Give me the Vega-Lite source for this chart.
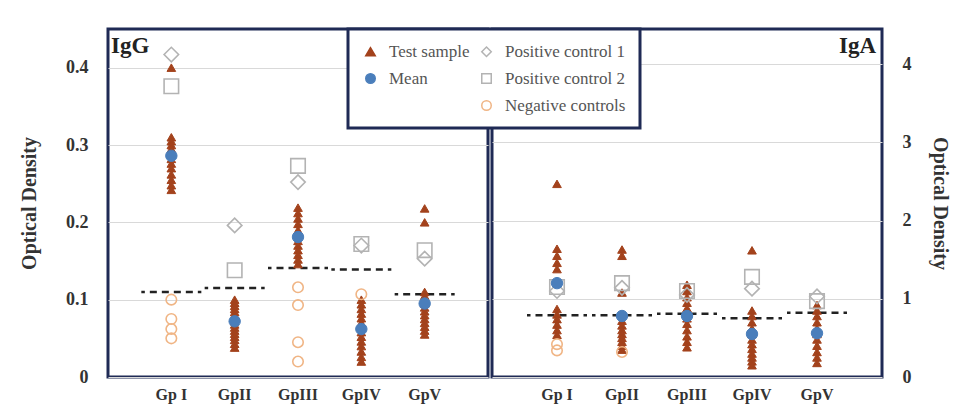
{
  "$schema": "https://vega.github.io/schema/vega-lite/v6.json",
  "background": "white",
  "padding": {"left": 18, "top": 27, "right": 0, "bottom": 0},
  "spacing": 0,
  "datasets": {
    "iggCut": [
      {"group": "Gp I", "cutoff": 0.11},
      {"group": "GpII", "cutoff": 0.115},
      {"group": "GpIII", "cutoff": 0.141},
      {"group": "GpIV", "cutoff": 0.139},
      {"group": "GpV", "cutoff": 0.107}
    ],
    "igaCut": [
      {"group": "Gp I", "cutoff": 0.79},
      {"group": "GpII", "cutoff": 0.79},
      {"group": "GpIII", "cutoff": 0.81},
      {"group": "GpIV", "cutoff": 0.75},
      {"group": "GpV", "cutoff": 0.82}
    ],
    "iggPts": [
      {"group": "Gp I", "series": "Test sample", "od": 0.40},
      {"group": "Gp I", "series": "Test sample", "od": 0.31},
      {"group": "Gp I", "series": "Test sample", "od": 0.305},
      {"group": "Gp I", "series": "Test sample", "od": 0.30},
      {"group": "Gp I", "series": "Test sample", "od": 0.295},
      {"group": "Gp I", "series": "Test sample", "od": 0.29},
      {"group": "Gp I", "series": "Test sample", "od": 0.282},
      {"group": "Gp I", "series": "Test sample", "od": 0.276},
      {"group": "Gp I", "series": "Test sample", "od": 0.27},
      {"group": "Gp I", "series": "Test sample", "od": 0.262},
      {"group": "Gp I", "series": "Test sample", "od": 0.255},
      {"group": "Gp I", "series": "Test sample", "od": 0.248},
      {"group": "Gp I", "series": "Test sample", "od": 0.242},
      {"group": "Gp I", "series": "Positive control 1", "od": 0.417},
      {"group": "Gp I", "series": "Positive control 2", "od": 0.376},
      {"group": "Gp I", "series": "Negative controls", "od": 0.10},
      {"group": "Gp I", "series": "Negative controls", "od": 0.075},
      {"group": "Gp I", "series": "Negative controls", "od": 0.062},
      {"group": "Gp I", "series": "Negative controls", "od": 0.05},
      {"group": "Gp I", "series": "Mean", "od": 0.286},
      {"group": "GpII", "series": "Test sample", "od": 0.10},
      {"group": "GpII", "series": "Test sample", "od": 0.096},
      {"group": "GpII", "series": "Test sample", "od": 0.092},
      {"group": "GpII", "series": "Test sample", "od": 0.088},
      {"group": "GpII", "series": "Test sample", "od": 0.084},
      {"group": "GpII", "series": "Test sample", "od": 0.08},
      {"group": "GpII", "series": "Test sample", "od": 0.076},
      {"group": "GpII", "series": "Test sample", "od": 0.072},
      {"group": "GpII", "series": "Test sample", "od": 0.068},
      {"group": "GpII", "series": "Test sample", "od": 0.064},
      {"group": "GpII", "series": "Test sample", "od": 0.06},
      {"group": "GpII", "series": "Test sample", "od": 0.056},
      {"group": "GpII", "series": "Test sample", "od": 0.052},
      {"group": "GpII", "series": "Test sample", "od": 0.048},
      {"group": "GpII", "series": "Test sample", "od": 0.043},
      {"group": "GpII", "series": "Test sample", "od": 0.038},
      {"group": "GpII", "series": "Positive control 1", "od": 0.196},
      {"group": "GpII", "series": "Positive control 2", "od": 0.138},
      {"group": "GpII", "series": "Mean", "od": 0.072},
      {"group": "GpIII", "series": "Test sample", "od": 0.219},
      {"group": "GpIII", "series": "Test sample", "od": 0.212},
      {"group": "GpIII", "series": "Test sample", "od": 0.205},
      {"group": "GpIII", "series": "Test sample", "od": 0.198},
      {"group": "GpIII", "series": "Test sample", "od": 0.19},
      {"group": "GpIII", "series": "Test sample", "od": 0.184},
      {"group": "GpIII", "series": "Test sample", "od": 0.176},
      {"group": "GpIII", "series": "Test sample", "od": 0.17},
      {"group": "GpIII", "series": "Test sample", "od": 0.164},
      {"group": "GpIII", "series": "Test sample", "od": 0.158},
      {"group": "GpIII", "series": "Test sample", "od": 0.152},
      {"group": "GpIII", "series": "Test sample", "od": 0.146},
      {"group": "GpIII", "series": "Positive control 1", "od": 0.252},
      {"group": "GpIII", "series": "Positive control 2", "od": 0.273},
      {"group": "GpIII", "series": "Negative controls", "od": 0.116},
      {"group": "GpIII", "series": "Negative controls", "od": 0.093},
      {"group": "GpIII", "series": "Negative controls", "od": 0.045},
      {"group": "GpIII", "series": "Negative controls", "od": 0.02},
      {"group": "GpIII", "series": "Mean", "od": 0.181},
      {"group": "GpIV", "series": "Test sample", "od": 0.10},
      {"group": "GpIV", "series": "Test sample", "od": 0.094},
      {"group": "GpIV", "series": "Test sample", "od": 0.088},
      {"group": "GpIV", "series": "Test sample", "od": 0.082},
      {"group": "GpIV", "series": "Test sample", "od": 0.076},
      {"group": "GpIV", "series": "Test sample", "od": 0.07},
      {"group": "GpIV", "series": "Test sample", "od": 0.064},
      {"group": "GpIV", "series": "Test sample", "od": 0.058},
      {"group": "GpIV", "series": "Test sample", "od": 0.052},
      {"group": "GpIV", "series": "Test sample", "od": 0.046},
      {"group": "GpIV", "series": "Test sample", "od": 0.04},
      {"group": "GpIV", "series": "Test sample", "od": 0.033},
      {"group": "GpIV", "series": "Test sample", "od": 0.026},
      {"group": "GpIV", "series": "Test sample", "od": 0.02},
      {"group": "GpIV", "series": "Positive control 1", "od": 0.17},
      {"group": "GpIV", "series": "Positive control 2", "od": 0.172},
      {"group": "GpIV", "series": "Negative controls", "od": 0.107},
      {"group": "GpIV", "series": "Mean", "od": 0.062},
      {"group": "GpV", "series": "Test sample", "od": 0.218},
      {"group": "GpV", "series": "Test sample", "od": 0.20},
      {"group": "GpV", "series": "Test sample", "od": 0.11},
      {"group": "GpV", "series": "Test sample", "od": 0.105},
      {"group": "GpV", "series": "Test sample", "od": 0.10},
      {"group": "GpV", "series": "Test sample", "od": 0.095},
      {"group": "GpV", "series": "Test sample", "od": 0.09},
      {"group": "GpV", "series": "Test sample", "od": 0.085},
      {"group": "GpV", "series": "Test sample", "od": 0.08},
      {"group": "GpV", "series": "Test sample", "od": 0.075},
      {"group": "GpV", "series": "Test sample", "od": 0.07},
      {"group": "GpV", "series": "Test sample", "od": 0.065},
      {"group": "GpV", "series": "Test sample", "od": 0.06},
      {"group": "GpV", "series": "Test sample", "od": 0.055},
      {"group": "GpV", "series": "Positive control 1", "od": 0.153},
      {"group": "GpV", "series": "Positive control 2", "od": 0.164},
      {"group": "GpV", "series": "Mean", "od": 0.095}
    ],
    "igaPts": [
      {"group": "Gp I", "series": "Test sample", "od": 2.47},
      {"group": "Gp I", "series": "Test sample", "od": 1.64},
      {"group": "Gp I", "series": "Test sample", "od": 1.55},
      {"group": "Gp I", "series": "Test sample", "od": 1.46},
      {"group": "Gp I", "series": "Test sample", "od": 1.38},
      {"group": "Gp I", "series": "Test sample", "od": 0.87},
      {"group": "Gp I", "series": "Test sample", "od": 0.8},
      {"group": "Gp I", "series": "Test sample", "od": 0.74},
      {"group": "Gp I", "series": "Test sample", "od": 0.67},
      {"group": "Gp I", "series": "Test sample", "od": 0.6},
      {"group": "Gp I", "series": "Test sample", "od": 0.54},
      {"group": "Gp I", "series": "Positive control 1", "od": 1.1},
      {"group": "Gp I", "series": "Positive control 2", "od": 1.15},
      {"group": "Gp I", "series": "Negative controls", "od": 0.42},
      {"group": "Gp I", "series": "Negative controls", "od": 0.34},
      {"group": "Gp I", "series": "Mean", "od": 1.2},
      {"group": "GpII", "series": "Test sample", "od": 1.63},
      {"group": "GpII", "series": "Test sample", "od": 1.55},
      {"group": "GpII", "series": "Test sample", "od": 1.08},
      {"group": "GpII", "series": "Test sample", "od": 0.72},
      {"group": "GpII", "series": "Test sample", "od": 0.66},
      {"group": "GpII", "series": "Test sample", "od": 0.6},
      {"group": "GpII", "series": "Test sample", "od": 0.55},
      {"group": "GpII", "series": "Test sample", "od": 0.5},
      {"group": "GpII", "series": "Test sample", "od": 0.45},
      {"group": "GpII", "series": "Test sample", "od": 0.4},
      {"group": "GpII", "series": "Test sample", "od": 0.35},
      {"group": "GpII", "series": "Positive control 1", "od": 1.14},
      {"group": "GpII", "series": "Positive control 2", "od": 1.2},
      {"group": "GpII", "series": "Negative controls", "od": 0.32},
      {"group": "GpII", "series": "Mean", "od": 0.78},
      {"group": "GpIII", "series": "Test sample", "od": 1.18},
      {"group": "GpIII", "series": "Test sample", "od": 1.1},
      {"group": "GpIII", "series": "Test sample", "od": 1.02},
      {"group": "GpIII", "series": "Test sample", "od": 0.95},
      {"group": "GpIII", "series": "Test sample", "od": 0.88},
      {"group": "GpIII", "series": "Test sample", "od": 0.82},
      {"group": "GpIII", "series": "Test sample", "od": 0.75},
      {"group": "GpIII", "series": "Test sample", "od": 0.68},
      {"group": "GpIII", "series": "Test sample", "od": 0.6},
      {"group": "GpIII", "series": "Test sample", "od": 0.52},
      {"group": "GpIII", "series": "Test sample", "od": 0.45},
      {"group": "GpIII", "series": "Test sample", "od": 0.38},
      {"group": "GpIII", "series": "Positive control 1", "od": 1.05},
      {"group": "GpIII", "series": "Positive control 2", "od": 1.1},
      {"group": "GpIII", "series": "Mean", "od": 0.78},
      {"group": "GpIV", "series": "Test sample", "od": 1.62},
      {"group": "GpIV", "series": "Test sample", "od": 0.85},
      {"group": "GpIV", "series": "Test sample", "od": 0.78},
      {"group": "GpIV", "series": "Test sample", "od": 0.7},
      {"group": "GpIV", "series": "Test sample", "od": 0.62},
      {"group": "GpIV", "series": "Test sample", "od": 0.55},
      {"group": "GpIV", "series": "Test sample", "od": 0.48},
      {"group": "GpIV", "series": "Test sample", "od": 0.42},
      {"group": "GpIV", "series": "Test sample", "od": 0.36},
      {"group": "GpIV", "series": "Test sample", "od": 0.3},
      {"group": "GpIV", "series": "Test sample", "od": 0.25},
      {"group": "GpIV", "series": "Test sample", "od": 0.2},
      {"group": "GpIV", "series": "Test sample", "od": 0.15},
      {"group": "GpIV", "series": "Positive control 1", "od": 1.13},
      {"group": "GpIV", "series": "Positive control 2", "od": 1.28},
      {"group": "GpIV", "series": "Mean", "od": 0.55},
      {"group": "GpV", "series": "Test sample", "od": 0.92},
      {"group": "GpV", "series": "Test sample", "od": 0.85},
      {"group": "GpV", "series": "Test sample", "od": 0.78},
      {"group": "GpV", "series": "Test sample", "od": 0.7},
      {"group": "GpV", "series": "Test sample", "od": 0.62},
      {"group": "GpV", "series": "Test sample", "od": 0.55},
      {"group": "GpV", "series": "Test sample", "od": 0.48},
      {"group": "GpV", "series": "Test sample", "od": 0.4},
      {"group": "GpV", "series": "Test sample", "od": 0.32},
      {"group": "GpV", "series": "Test sample", "od": 0.25},
      {"group": "GpV", "series": "Test sample", "od": 0.18},
      {"group": "GpV", "series": "Positive control 1", "od": 1.03},
      {"group": "GpV", "series": "Positive control 2", "od": 0.97},
      {"group": "GpV", "series": "Mean", "od": 0.56}
    ]
  },
  "hconcat": [
    {
      "width": 380,
      "height": 348,
      "title": {"text": "IgG", "anchor": "start", "frame": "group", "offset": -29, "dx": 3},
      "layer": [
        {
          "data": {"name": "iggCut"},
          "mark": {"type": "bar", "width": 60, "fill": "transparent", "stroke": "#222222", "strokeWidth": 2.5, "strokeDash": [7, 5], "strokeDashOffset": 3.5},
          "encoding": {
            "x": {"field": "group", "type": "nominal", "sort": ["Gp I", "GpII", "GpIII", "GpIV", "GpV"], "scale": {"type": "band", "paddingInner": 0, "paddingOuter": 0.5}, "axis": {"title": null, "labelAngle": 0}},
            "y": {"field": "cutoff", "type": "quantitative", "scale": {"domain": [0, 0.45], "nice": false}, "axis": {"title": "Optical Density", "values": [0, 0.1, 0.2, 0.3, 0.4], "format": ".1~f"}},
            "y2": {"field": "cutoff"}
          }
        },
        {
          "data": {"name": "iggPts"},
          "encoding": {
            "x": {"field": "group", "type": "nominal", "sort": ["Gp I", "GpII", "GpIII", "GpIV", "GpV"]},
            "y": {"field": "od", "type": "quantitative", "title": "Optical Density"},
            "fill": {"field": "series", "type": "nominal", "scale": {"domain": ["Test sample", "Mean", " ", "Positive control 1", "Positive control 2", "Negative controls"], "range": ["#a3421c", "#4a7ebb", "transparent", "transparent", "transparent", "transparent"]}, "legend": {"title": null}},
            "stroke": {"field": "series", "type": "nominal", "scale": {"domain": ["Test sample", "Mean", " ", "Positive control 1", "Positive control 2", "Negative controls"], "range": ["#a3421c", "#4a7ebb", "transparent", "#b3b3b3", "#b3b3b3", "#f0b585"]}, "legend": {"title": null}},
            "shape": {"field": "series", "type": "nominal", "scale": {"domain": ["Test sample", "Mean", " ", "Positive control 1", "Positive control 2", "Negative controls"], "range": ["triangle-up", "circle", "circle", "diamond", "square", "circle"]}, "legend": {"title": null}}
          },
          "layer": [
            {"transform": [{"filter": "datum.series === 'Test sample'"}], "mark": {"type": "point", "size": 75, "strokeWidth": 1, "opacity": 1}},
            {"transform": [{"filter": "datum.series === 'Positive control 1' || datum.series === 'Positive control 2'"}], "mark": {"type": "point", "size": 210, "strokeWidth": 1.6, "opacity": 1}},
            {"transform": [{"filter": "datum.series === 'Negative controls'"}], "mark": {"type": "point", "size": 110, "strokeWidth": 1.6, "opacity": 1}},
            {"transform": [{"filter": "datum.series === 'Mean'"}], "mark": {"type": "point", "size": 130, "strokeWidth": 1, "opacity": 1}}
          ]
        }
      ]
    },
    {
      "width": 390,
      "height": 348,
      "title": {"text": "IgA", "anchor": "end", "frame": "group", "offset": -29, "dx": -6},
      "layer": [
        {
          "data": {"name": "igaCut"},
          "mark": {"type": "bar", "width": 60, "fill": "transparent", "stroke": "#222222", "strokeWidth": 2.5, "strokeDash": [7, 5], "strokeDashOffset": 3.5},
          "encoding": {
            "x": {"field": "group", "type": "nominal", "sort": ["Gp I", "GpII", "GpIII", "GpIV", "GpV"], "scale": {"type": "band", "paddingInner": 0, "paddingOuter": 0.5}, "axis": {"title": null, "labelAngle": 0}},
            "y": {"field": "cutoff", "type": "quantitative", "scale": {"domain": [0, 4.45], "nice": false}, "axis": {"orient": "right", "title": "Optical Density", "values": [0, 1, 2, 3, 4], "format": "d", "titlePadding": 18}},
            "y2": {"field": "cutoff"}
          }
        },
        {
          "data": {"name": "igaPts"},
          "encoding": {
            "x": {"field": "group", "type": "nominal", "sort": ["Gp I", "GpII", "GpIII", "GpIV", "GpV"]},
            "y": {"field": "od", "type": "quantitative", "title": "Optical Density"},
            "fill": {"field": "series", "type": "nominal", "scale": {"domain": ["Test sample", "Mean", " ", "Positive control 1", "Positive control 2", "Negative controls"], "range": ["#a3421c", "#4a7ebb", "transparent", "transparent", "transparent", "transparent"]}, "legend": {"title": null}},
            "stroke": {"field": "series", "type": "nominal", "scale": {"domain": ["Test sample", "Mean", " ", "Positive control 1", "Positive control 2", "Negative controls"], "range": ["#a3421c", "#4a7ebb", "transparent", "#b3b3b3", "#b3b3b3", "#f0b585"]}, "legend": {"title": null}},
            "shape": {"field": "series", "type": "nominal", "scale": {"domain": ["Test sample", "Mean", " ", "Positive control 1", "Positive control 2", "Negative controls"], "range": ["triangle-up", "circle", "circle", "diamond", "square", "circle"]}, "legend": {"title": null}}
          },
          "layer": [
            {"transform": [{"filter": "datum.series === 'Test sample'"}], "mark": {"type": "point", "size": 75, "strokeWidth": 1, "opacity": 1}},
            {"transform": [{"filter": "datum.series === 'Positive control 1' || datum.series === 'Positive control 2'"}], "mark": {"type": "point", "size": 210, "strokeWidth": 1.6, "opacity": 1}},
            {"transform": [{"filter": "datum.series === 'Negative controls'"}], "mark": {"type": "point", "size": 110, "strokeWidth": 1.6, "opacity": 1}},
            {"transform": [{"filter": "datum.series === 'Mean'"}], "mark": {"type": "point", "size": 130, "strokeWidth": 1, "opacity": 1}}
          ]
        }
      ]
    }
  ],
  "resolve": {
    "scale": {"fill": "shared", "stroke": "shared", "shape": "shared"},
    "legend": {"fill": "shared", "stroke": "shared", "shape": "shared"}
  },
  "config": {
    "view": {"stroke": "#1f2a55", "strokeWidth": 3},
    "font": "Liberation Serif",
    "title": {"font": "Liberation Serif", "fontSize": 23, "fontWeight": "bold", "color": "#222222"},
    "axis": {
      "labelFont": "Liberation Serif",
      "labelFontWeight": "bold",
      "labelColor": "#333333",
      "titleFont": "Liberation Serif",
      "titleFontWeight": "bold",
      "titleFontSize": 20,
      "titleColor": "#333333",
      "ticks": false,
      "domain": false
    },
    "axisX": {"labelFontSize": 16, "labelPadding": 9, "grid": false},
    "axisY": {"labelFontSize": 18, "labelPadding": 20, "grid": true, "gridColor": "#d9d9d9", "gridWidth": 1.2, "titlePadding": 26},
    "legend": {
      "orient": "none",
      "legendX": 240,
      "legendY": 0,
      "columns": 2,
      "padding": 14,
      "rowPadding": 9,
      "columnPadding": 8,
      "labelOffset": 10,
      "labelFont": "Liberation Serif",
      "labelFontSize": 17,
      "labelColor": "#555555",
      "symbolSize": 90,
      "symbolStrokeWidth": 1.5,
      "fillColor": "white",
      "strokeColor": "#1f2a55",
      "strokeWidth": 3,
      "zindex": 5
    }
  }
}
